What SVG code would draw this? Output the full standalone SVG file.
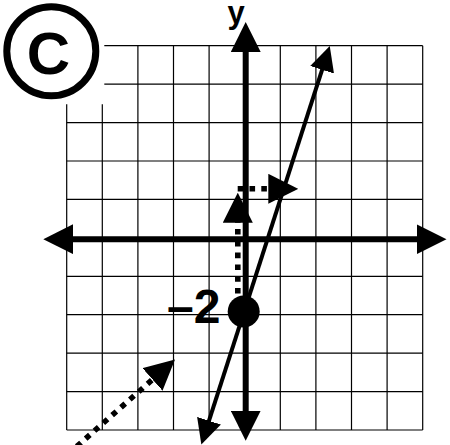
<svg xmlns="http://www.w3.org/2000/svg" width="450" height="445" viewBox="0 0 450 445">
<style>
.grid line{stroke:#000;stroke-width:1.2}
.axis{stroke:#000;stroke-width:6;fill:none}
.dot{stroke:#000;stroke-width:5.6;fill:none;stroke-dasharray:5.6 6.2}
.lbl{font-family:"Liberation Sans",Arial,sans-serif;font-weight:bold;fill:#000}
</style>
<defs>
<marker id="ah30" markerUnits="userSpaceOnUse" viewBox="0 0 30 30" markerWidth="30" markerHeight="30" refX="1" refY="15" orient="auto-start-reverse"><path d="M0,0 L30,15 L0,30 Z" fill="#000"/></marker>
<marker id="ah25" markerUnits="userSpaceOnUse" viewBox="0 0 25 25" markerWidth="25" markerHeight="25" refX="1" refY="12.5" orient="auto-start-reverse"><path d="M0,0 L25,12.5 L0,25 Z" fill="#000"/></marker>
</defs>
<rect width="450" height="445" fill="#fff"/>
<g id="grid" class="grid">
<line x1="66.7" y1="104.3" x2="66.7" y2="430"/>
<line x1="102.3" y1="104.3" x2="102.3" y2="430"/>
<line x1="137.9" y1="45.7" x2="137.9" y2="430"/>
<line x1="173.5" y1="45.7" x2="173.5" y2="430"/>
<line x1="209.1" y1="45.7" x2="209.1" y2="430"/>
<line x1="244.7" y1="45.7" x2="244.7" y2="430"/>
<line x1="280.3" y1="45.7" x2="280.3" y2="430"/>
<line x1="315.9" y1="45.7" x2="315.9" y2="430"/>
<line x1="351.5" y1="45.7" x2="351.5" y2="430"/>
<line x1="387.1" y1="45.7" x2="387.1" y2="430"/>
<line x1="422.7" y1="45.7" x2="422.7" y2="430"/>
<line x1="104.3" y1="45.7" x2="422.7" y2="45.7"/>
<line x1="104.3" y1="84.1" x2="422.7" y2="84.1"/>
<line x1="66.7" y1="122.6" x2="422.7" y2="122.6"/>
<line x1="66.7" y1="161.0" x2="422.7" y2="161.0"/>
<line x1="66.7" y1="199.4" x2="422.7" y2="199.4"/>
<line x1="66.7" y1="237.9" x2="422.7" y2="237.9"/>
<line x1="66.7" y1="276.3" x2="422.7" y2="276.3"/>
<line x1="66.7" y1="314.7" x2="422.7" y2="314.7"/>
<line x1="66.7" y1="353.1" x2="422.7" y2="353.1"/>
<line x1="66.7" y1="391.6" x2="422.7" y2="391.6"/>
<line x1="66.7" y1="430" x2="422.7" y2="430"/>
</g>
<g id="connectors">
<line id="x-axis" class="axis" x1="72.3" y1="239.2" x2="417.5" y2="239.2" marker-start="url(#ah30)" marker-end="url(#ah30)"/>
<line id="y-axis" class="axis" x1="245.7" y1="51" x2="245.7" y2="411.7" marker-start="url(#ah30)" marker-end="url(#ah30)"/>
<line id="graph-line" x1="208.7" y1="421.7" x2="322.4" y2="68.8" stroke="#000" stroke-width="4" marker-start="url(#ah25)" marker-end="url(#ah25)"/>
<path id="rise" class="dot" d="M237.8,293.6 V221.7" marker-end="url(#ah30)"/>
<path id="run" class="dot" d="M237.7,188.8 H269.3" marker-end="url(#ah30)"/>
<path id="pointer" class="dot" style="stroke-width:5.5" d="M76.8,446.4 L153.3,378.8" marker-end="url(#ah30)"/>
</g>
<g id="intercept">
<circle cx="243.7" cy="311.5" r="16" fill="#000"/>
<text class="lbl" x="167" y="323.3" font-size="48">–2</text>
</g>
<g id="y-label"><text class="lbl" x="227.5" y="23" font-size="31">y</text></g>
<g id="badge">
<circle cx="51.3" cy="51.3" r="44.5" fill="#fff" stroke="#000" stroke-width="7"/>
<text class="lbl" x="48.5" y="74" font-size="60" text-anchor="middle">C</text>
</g>
</svg>
